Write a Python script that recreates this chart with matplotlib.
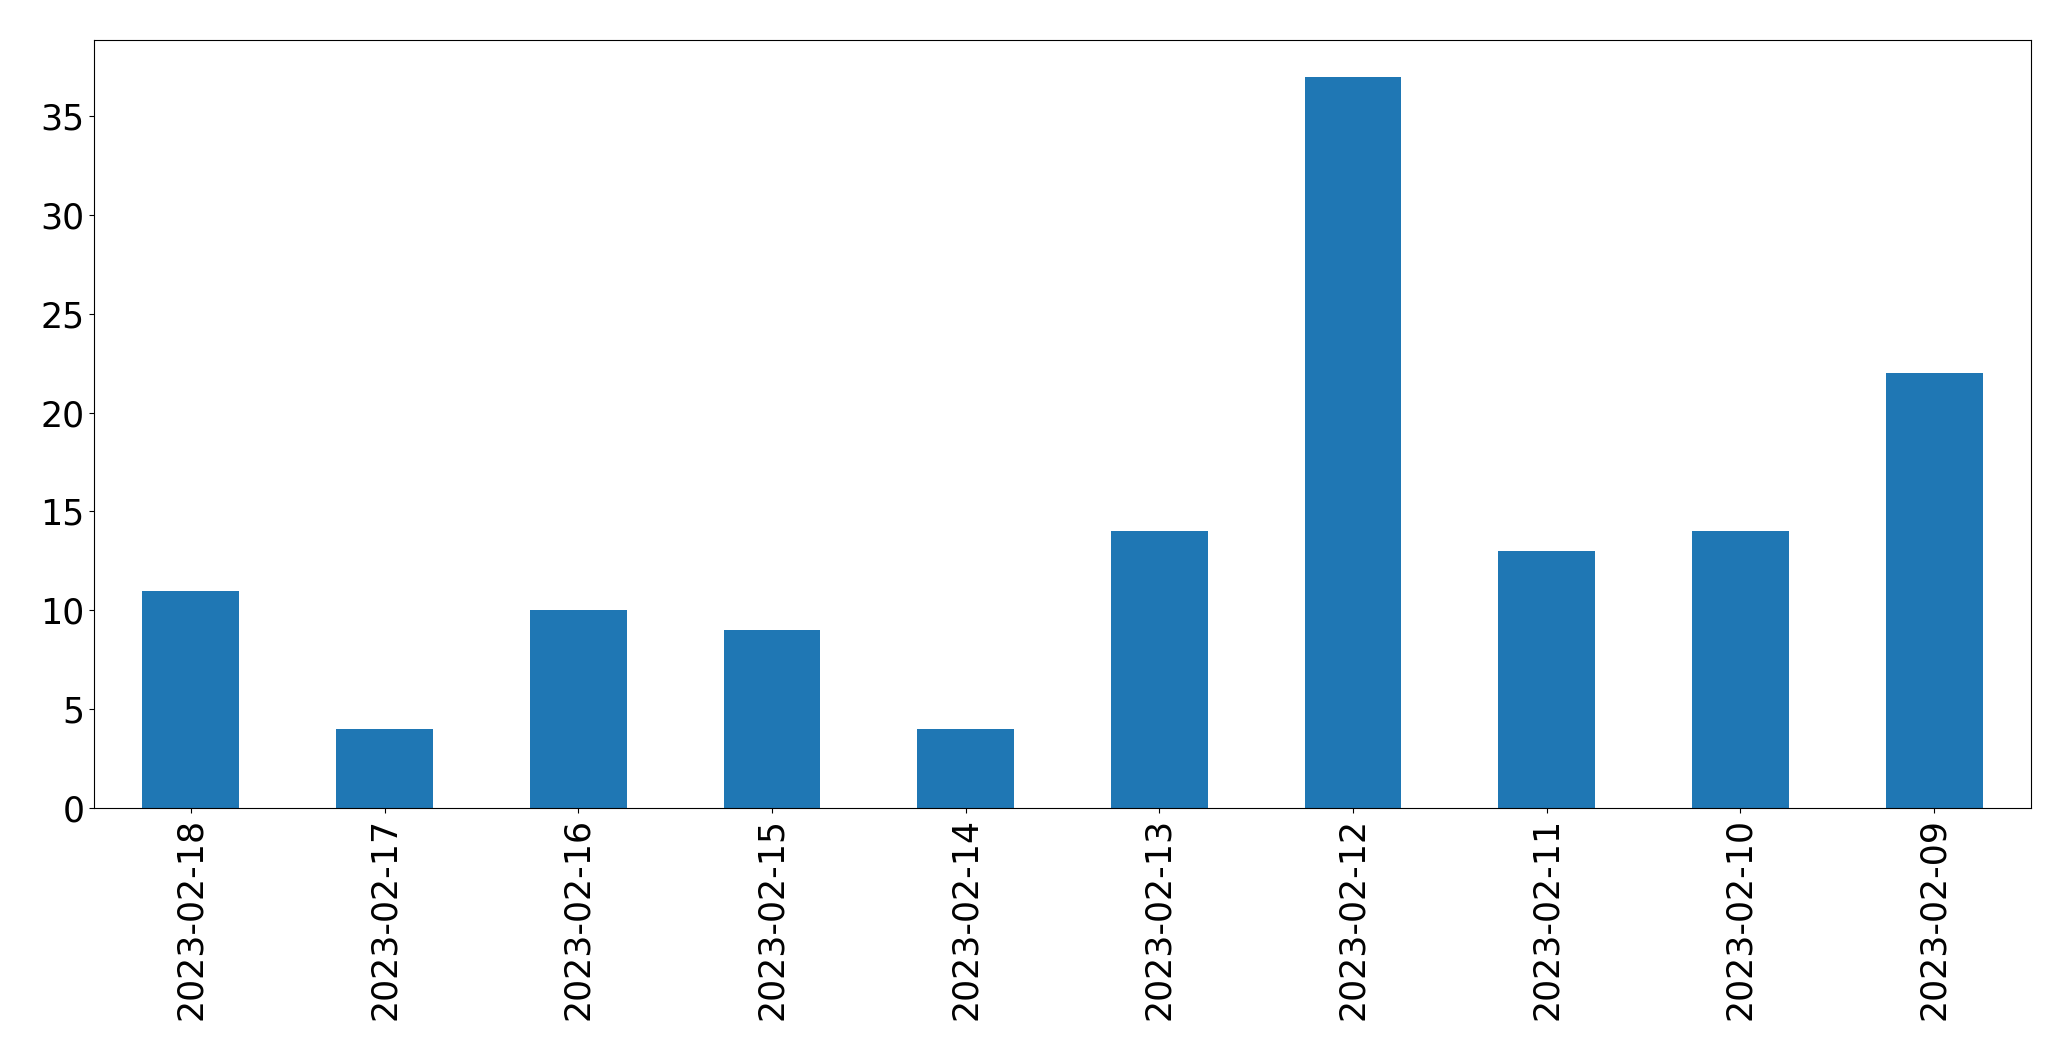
import matplotlib
matplotlib.use("Agg")
import matplotlib.pyplot as plt
import numpy as np

dates = ["2023-02-18", "2023-02-17", "2023-02-16", "2023-02-15", "2023-02-14",
         "2023-02-13", "2023-02-12", "2023-02-11", "2023-02-10", "2023-02-09"]
counts = [11, 4, 10, 9, 4, 14, 37, 13, 14, 22]

fig = plt.figure(figsize=(20.71, 10.61), dpi=100)
ax = fig.add_axes([94 / 2071, 1 - 808 / 1061, (2031 - 94) / 2071, (808 - 40) / 1061])

x = np.arange(len(dates))
ax.bar(x, counts, width=0.5, color="#1f77b4")
ax.set_xlim(-0.5, len(dates) - 0.5)
ax.set_xticks(x)
ax.set_xticklabels(dates, rotation=90)
ax.tick_params(labelsize=25)

fig.savefig("out.png", dpi=100)
